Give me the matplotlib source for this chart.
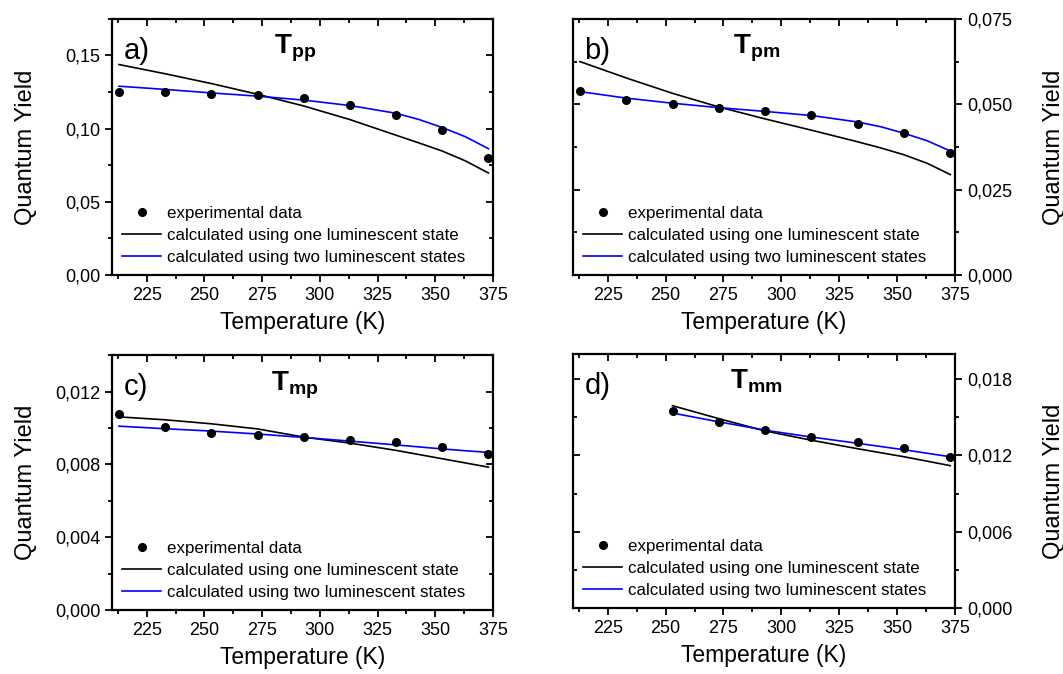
import matplotlib
matplotlib.use("Agg")
import matplotlib.pyplot as plt
from matplotlib.ticker import MultipleLocator, FuncFormatter

plt.rcParams["font.family"] = ["Liberation Sans", "DejaVu Sans"]
plt.rcParams["mathtext.fontset"] = "custom"
plt.rcParams["mathtext.bf"] = "Liberation Sans:bold"
plt.rcParams["mathtext.rm"] = "Liberation Sans"

# experimental temperatures (K)
temp_exp = [213, 233, 253, 273, 293, 313, 333, 353, 373]
temp_exp_mm = [253, 273, 293, 313, 333, 353, 373]
temp_fit = [213, 233, 253, 273, 293, 313, 333, 343, 353, 363, 373]
temp_fit_mm = [253, 273, 293, 313, 333, 353, 373]

# a) Tpp
pp_exp = [0.1251, 0.1250, 0.1240, 0.1230, 0.1208, 0.1162, 0.1094, 0.0993, 0.0797]
pp_one = [0.1438, 0.1375, 0.1308, 0.1235, 0.1155, 0.1062, 0.0955, 0.0902, 0.0847, 0.0780, 0.0697]
pp_two = [0.1290, 0.1268, 0.1244, 0.1222, 0.1195, 0.1158, 0.1105, 0.1062, 0.1008, 0.0945, 0.0863]

# b) Tpm
pm_exp = [0.0539, 0.0512, 0.0500, 0.0490, 0.0480, 0.0469, 0.0443, 0.0415, 0.0356]
pm_one = [0.0625, 0.0577, 0.0532, 0.0492, 0.0457, 0.0424, 0.0390, 0.0372, 0.0352, 0.0327, 0.0294]
pm_two = [0.0537, 0.0518, 0.0503, 0.0490, 0.0479, 0.0467, 0.0448, 0.0434, 0.0415, 0.0393, 0.0363]

# c) Tmp
mp_exp = [0.01076, 0.01003, 0.00974, 0.00959, 0.00948, 0.00933, 0.00922, 0.00897, 0.00859]
mp_one = [0.01061, 0.01045, 0.01023, 0.00995, 0.00950, 0.00917, 0.00877, 0.00854, 0.00831, 0.00808, 0.00785]
mp_two = [0.01010, 0.00996, 0.00983, 0.00967, 0.00948, 0.00928, 0.00907, 0.00896, 0.00885, 0.00875, 0.00866]

# d) Tmm
mm_exp = [0.01552, 0.01465, 0.01399, 0.01349, 0.01306, 0.01261, 0.01187]
mm_one = [0.01592, 0.01490, 0.01393, 0.01320, 0.01253, 0.01190, 0.01120]
mm_two = [0.01534, 0.01465, 0.01399, 0.01345, 0.01296, 0.01245, 0.01190]

panels = [
    ("a)", r"$\mathbf{T_{pp}}$", temp_exp, pp_exp, temp_fit, pp_one, pp_two, 0.175, 0.05, 0.025, 2, "left"),
    ("b)", r"$\mathbf{T_{pm}}$", temp_exp, pm_exp, temp_fit, pm_one, pm_two, 0.075, 0.025, 0.0125, 3, "right"),
    ("c)", r"$\mathbf{T_{mp}}$", temp_exp, mp_exp, temp_fit, mp_one, mp_two, 0.014, 0.004, 0.002, 3, "left"),
    ("d)", r"$\mathbf{T_{mm}}$", temp_exp_mm, mm_exp, temp_fit_mm, mm_one, mm_two, 0.020, 0.006, 0.003, 3, "right"),
]

positions = [
    [0.1054, 0.592, 0.3584, 0.380],
    [0.5390, 0.592, 0.3594, 0.380],
    [0.1054, 0.095, 0.3584, 0.378],
    [0.5390, 0.098, 0.3594, 0.377],
]

fig = plt.figure(figsize=(10.63, 6.74), dpi=100)


def set_ticks(axis, major, minor):
    axis.set_major_locator(MultipleLocator(major))
    axis.set_minor_locator(MultipleLocator(minor))


for pos, (lab, title, tx, yexp, tf, yone, ytwo, ymax, major, minor, dec, side) in zip(positions, panels):
    ax = fig.add_axes(pos)
    ax.plot(tx, yexp, "o", color="black", markersize=5.5, label="experimental data", zorder=3)
    ax.plot(tf, yone, "-", color="black", lw=1.2, label="calculated using one luminescent state")
    ax.plot(tf, ytwo, "-", color="#0000ff", lw=1.2, label="calculated using two luminescent states")

    ax.set_xlim(210, 375)
    ax.set_ylim(0, ymax)
    set_ticks(ax.xaxis, 25, 12.5)
    set_ticks(ax.yaxis, major, minor)
    ax.yaxis.set_major_formatter(FuncFormatter(lambda v, p, d=dec: f"{v:.{d}f}".replace(".", ",")))

    for s in ax.spines.values():
        s.set_linewidth(1.6)

    ax.tick_params(which="both", labelsize=13, width=1.3)
    ax.tick_params(which="major", length=5)
    ax.tick_params(which="minor", length=3)
    ax.tick_params(axis="x", which="both", direction="out", top=False)

    # mirrored ticks pointing inward on the top and opposite spine
    top = ax.secondary_xaxis("top")
    set_ticks(top.xaxis, 25, 12.5)
    top.tick_params(which="both", direction="in", labeltop=False, width=1.3)
    top.tick_params(which="major", length=5)
    top.tick_params(which="minor", length=3)
    top.spines["top"].set_visible(False)

    if side == "left":
        ax.tick_params(axis="y", which="both", direction="out", left=True, right=False)
        other = ax.secondary_yaxis("right")
    else:
        ax.yaxis.tick_right()
        ax.yaxis.set_label_position("right")
        ax.tick_params(axis="y", which="both", direction="out", right=True, left=False)
        other = ax.secondary_yaxis("left")
    set_ticks(other.yaxis, major, minor)
    other.tick_params(which="both", direction="in", labelleft=False, labelright=False, width=1.3)
    other.tick_params(which="major", length=5)
    other.tick_params(which="minor", length=3)
    for s in other.spines.values():
        s.set_visible(False)

    ax.set_xlabel("Temperature (K)", fontsize=16.5, labelpad=5)
    ax.set_ylabel("Quantum Yield", fontsize=17, rotation=90, va="center")
    if side == "right":
        ax.yaxis.set_label_coords(1.258, 0.5)
    else:
        ax.yaxis.set_label_coords(-0.226, 0.5)

    ax.text(0.03, 0.93, lab, transform=ax.transAxes, fontsize=21, va="top", ha="left")
    ax.text(0.48, 0.945, title, transform=ax.transAxes, fontsize=20, va="top", ha="center")

    ax.legend(loc="lower left", bbox_to_anchor=(0.0, 0.0), frameon=False, fontsize=12.2,
              handlelength=2.3, handletextpad=0.35, labelspacing=0.4, borderaxespad=0.3,
              borderpad=0.3)

fig.savefig("out.png", dpi=100)
